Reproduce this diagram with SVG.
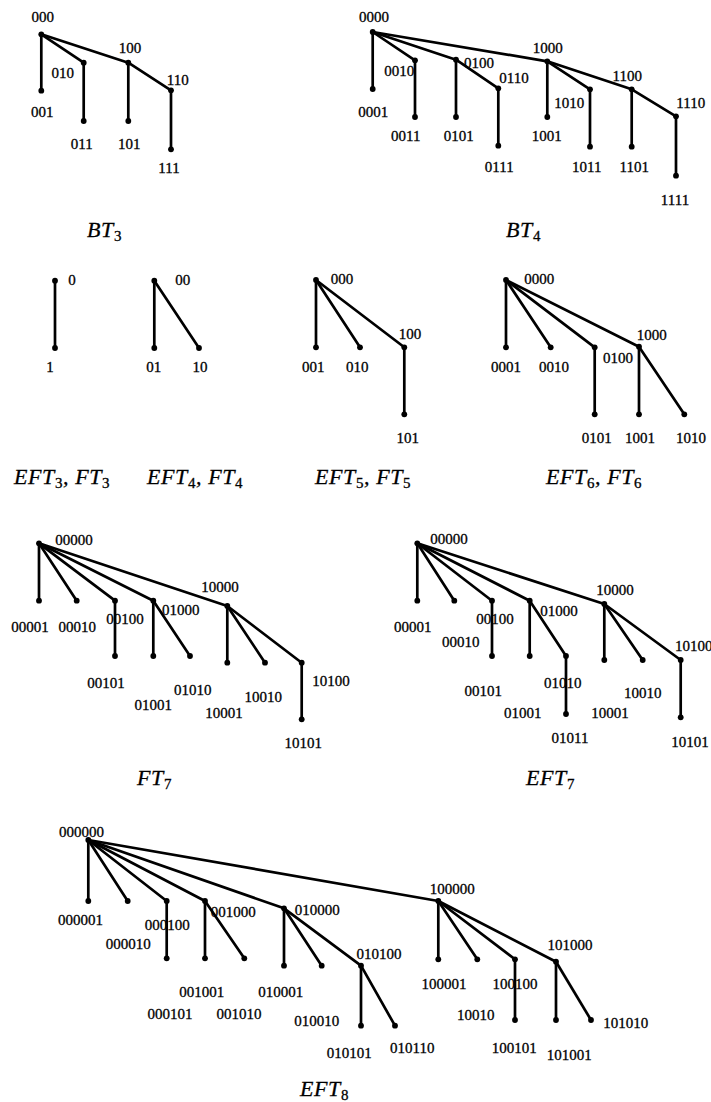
<svg xmlns="http://www.w3.org/2000/svg" width="711" height="1102" viewBox="0 0 711 1102">
<style>
  .bg { fill: #ffffff; }
  .edges line { stroke: #000; stroke-width: 2.7; stroke-linecap: round; }
  .node circle { fill: #000; }
  .node text { font-family: "Liberation Serif", "Times New Roman", serif; font-size: 15px; fill: #000; stroke: #000; stroke-width: 0.3px; text-anchor: middle; }
  .node text.st { text-anchor: start; }
  .cap { font-family: "Liberation Serif", "Times New Roman", serif; font-size: 22px; font-style: italic; fill: #000; stroke: #000; stroke-width: 0.3px; letter-spacing: 0.6px; }
  .cap .sub { font-size: 15px; font-style: normal; }
</style>
<rect class="bg" x="0" y="0" width="711" height="1102"/>

<!-- connectors -->
<g id="connectors" class="edges">
  <g id="e-bt3">
    <line x1="41.3" y1="34.3" x2="41.3" y2="90.7"/>
    <line x1="41.3" y1="34.3" x2="83.7" y2="62.7"/>
    <line x1="41.3" y1="34.3" x2="128.3" y2="62.7"/>
    <line x1="83.7" y1="62.7" x2="83.7" y2="121"/>
    <line x1="128.3" y1="62.7" x2="128.3" y2="121"/>
    <line x1="128.3" y1="62.7" x2="171" y2="90.3"/>
    <line x1="171" y1="90.3" x2="171" y2="149.3"/>
  </g>
  <g id="e-bt4">
    <line x1="372.7" y1="32" x2="372.7" y2="89"/>
    <line x1="372.7" y1="32" x2="415" y2="60.3"/>
    <line x1="372.7" y1="32" x2="456" y2="59.7"/>
    <line x1="372.7" y1="32" x2="547.3" y2="61.3"/>
    <line x1="415" y1="60.3" x2="415" y2="117"/>
    <line x1="456" y1="59.7" x2="456" y2="117"/>
    <line x1="456" y1="59.7" x2="498.3" y2="88.3"/>
    <line x1="498.3" y1="88.3" x2="498.3" y2="145.7"/>
    <line x1="547.3" y1="61.3" x2="547.3" y2="117"/>
    <line x1="547.3" y1="61.3" x2="590" y2="89.3"/>
    <line x1="547.3" y1="61.3" x2="631.7" y2="89.3"/>
    <line x1="590" y1="89.3" x2="590" y2="146.7"/>
    <line x1="631.7" y1="89.3" x2="631.7" y2="146.7"/>
    <line x1="631.7" y1="89.3" x2="676" y2="116.3"/>
    <line x1="676" y1="116.3" x2="676" y2="175.7"/>
  </g>
  <g id="e-eft3">
    <line x1="55" y1="280.7" x2="55" y2="348"/>
  </g>
  <g id="e-eft4">
    <line x1="154.3" y1="280.7" x2="154.3" y2="348"/>
    <line x1="154.3" y1="280.7" x2="199" y2="348"/>
  </g>
  <g id="e-eft5">
    <line x1="316" y1="280" x2="316" y2="347.3"/>
    <line x1="316" y1="280" x2="360" y2="347.3"/>
    <line x1="316" y1="280" x2="404.3" y2="347.3"/>
    <line x1="404.3" y1="347.3" x2="404.3" y2="414.3"/>
  </g>
  <g id="e-eft6">
    <line x1="506" y1="280" x2="506" y2="347.3"/>
    <line x1="506" y1="280" x2="550.7" y2="347.3"/>
    <line x1="506" y1="280" x2="594.7" y2="347.3"/>
    <line x1="506" y1="280" x2="639" y2="346.7"/>
    <line x1="594.7" y1="347.3" x2="594.7" y2="414.3"/>
    <line x1="639" y1="346.7" x2="639" y2="414.3"/>
    <line x1="639" y1="346.7" x2="684.3" y2="414.3"/>
  </g>
  <g id="e-ft7">
    <line x1="39" y1="543.3" x2="39" y2="600.7"/>
    <line x1="39" y1="543.3" x2="76.7" y2="600.7"/>
    <line x1="39" y1="543.3" x2="115" y2="600.7"/>
    <line x1="39" y1="543.3" x2="153.3" y2="600.7"/>
    <line x1="39" y1="543.3" x2="227.3" y2="606"/>
    <line x1="115" y1="600.7" x2="115" y2="656"/>
    <line x1="153.3" y1="600.7" x2="153.3" y2="656"/>
    <line x1="153.3" y1="600.7" x2="190" y2="656"/>
    <line x1="227.3" y1="606" x2="227.3" y2="662.7"/>
    <line x1="227.3" y1="606" x2="265" y2="662.7"/>
    <line x1="227.3" y1="606" x2="301.7" y2="662.7"/>
    <line x1="301.7" y1="662.7" x2="301.7" y2="719.3"/>
  </g>
  <g id="e-eft7">
    <line x1="417.3" y1="543.3" x2="417.3" y2="600.7"/>
    <line x1="417.3" y1="543.3" x2="454.3" y2="600.7"/>
    <line x1="417.3" y1="543.3" x2="492" y2="600.7"/>
    <line x1="417.3" y1="543.3" x2="529.7" y2="600.7"/>
    <line x1="417.3" y1="543.3" x2="604.3" y2="604"/>
    <line x1="492" y1="600.7" x2="492" y2="656"/>
    <line x1="529.7" y1="600.7" x2="529.7" y2="656"/>
    <line x1="529.7" y1="600.7" x2="566" y2="656"/>
    <line x1="566" y1="656" x2="566" y2="714"/>
    <line x1="604.3" y1="604" x2="604.3" y2="660"/>
    <line x1="604.3" y1="604" x2="642.7" y2="660"/>
    <line x1="604.3" y1="604" x2="680.7" y2="660"/>
    <line x1="680.7" y1="660" x2="680.7" y2="717.3"/>
  </g>
  <g id="e-eft8">
    <line x1="88.3" y1="840" x2="88.3" y2="901"/>
    <line x1="88.3" y1="840" x2="127.7" y2="901"/>
    <line x1="88.3" y1="840" x2="166.7" y2="901"/>
    <line x1="88.3" y1="840" x2="205" y2="901"/>
    <line x1="88.3" y1="840" x2="284" y2="908.3"/>
    <line x1="88.3" y1="840" x2="438.3" y2="901"/>
    <line x1="166.7" y1="901" x2="166.7" y2="958.3"/>
    <line x1="205" y1="901" x2="205" y2="958.3"/>
    <line x1="205" y1="901" x2="244.3" y2="958.3"/>
    <line x1="284" y1="908.3" x2="284" y2="965.7"/>
    <line x1="284" y1="908.3" x2="321.7" y2="965.7"/>
    <line x1="284" y1="908.3" x2="361" y2="965.7"/>
    <line x1="361" y1="965.7" x2="361" y2="1025.7"/>
    <line x1="361" y1="965.7" x2="395" y2="1025.7"/>
    <line x1="438.3" y1="901" x2="438.3" y2="959.3"/>
    <line x1="438.3" y1="901" x2="477.3" y2="959.3"/>
    <line x1="438.3" y1="901" x2="515" y2="959.3"/>
    <line x1="438.3" y1="901" x2="556" y2="961.7"/>
    <line x1="515" y1="959.3" x2="515" y2="1020"/>
    <line x1="556" y1="961.7" x2="556" y2="1020"/>
    <line x1="556" y1="961.7" x2="591" y2="1020"/>
  </g>
</g>

<!-- BT3 -->
<g id="bt3">
  <g id="bt3-000" class="node"><circle cx="41.3" cy="34.3" r="2.9"/><text x="42.7" y="22">000</text></g>
  <g id="bt3-001" class="node"><circle cx="41.3" cy="90.7" r="2.9"/><text x="42.3" y="117.3">001</text></g>
  <g id="bt3-010" class="node"><circle cx="83.7" cy="62.7" r="2.9"/><text x="62.7" y="77.7">010</text></g>
  <g id="bt3-011" class="node"><circle cx="83.7" cy="121" r="2.9"/><text x="81.7" y="149">011</text></g>
  <g id="bt3-100" class="node"><circle cx="128.3" cy="62.7" r="2.9"/><text x="130" y="53.3">100</text></g>
  <g id="bt3-101" class="node"><circle cx="128.3" cy="121" r="2.9"/><text x="129.3" y="149">101</text></g>
  <g id="bt3-110" class="node"><circle cx="171" cy="90.3" r="2.9"/><text x="177.7" y="85">110</text></g>
  <g id="bt3-111" class="node"><circle cx="171" cy="149.3" r="2.9"/><text x="169" y="172.7">111</text></g>
</g>

<!-- BT4 -->
<g id="bt4">
  <g id="bt4-0000" class="node"><circle cx="372.7" cy="32" r="2.9"/><text x="374" y="21.7">0000</text></g>
  <g id="bt4-0001" class="node"><circle cx="372.7" cy="89" r="2.9"/><text x="373.3" y="116.7">0001</text></g>
  <g id="bt4-0010" class="node"><circle cx="415" cy="60.3" r="2.9"/><text x="399.3" y="76">0010</text></g>
  <g id="bt4-0011" class="node"><circle cx="415" cy="117" r="2.9"/><text x="405.7" y="140.7">0011</text></g>
  <g id="bt4-0100" class="node"><circle cx="456" cy="59.7" r="2.9"/><text x="479" y="68.3">0100</text></g>
  <g id="bt4-0101" class="node"><circle cx="456" cy="117" r="2.9"/><text x="458.7" y="140.7">0101</text></g>
  <g id="bt4-0110" class="node"><circle cx="498.3" cy="88.3" r="2.9"/><text x="514" y="83.3">0110</text></g>
  <g id="bt4-0111" class="node"><circle cx="498.3" cy="145.7" r="2.9"/><text x="499.3" y="172.3">0111</text></g>
  <g id="bt4-1000" class="node"><circle cx="547.3" cy="61.3" r="2.9"/><text x="547.7" y="53.3">1000</text></g>
  <g id="bt4-1001" class="node"><circle cx="547.3" cy="117" r="2.9"/><text x="546.7" y="140.7">1001</text></g>
  <g id="bt4-1010" class="node"><circle cx="590" cy="89.3" r="2.9"/><text x="569.3" y="108.3">1010</text></g>
  <g id="bt4-1011" class="node"><circle cx="590" cy="146.7" r="2.9"/><text x="586.7" y="172.3">1011</text></g>
  <g id="bt4-1100" class="node"><circle cx="631.7" cy="89.3" r="2.9"/><text x="627.3" y="81.3">1100</text></g>
  <g id="bt4-1101" class="node"><circle cx="631.7" cy="146.7" r="2.9"/><text x="634.3" y="172.3">1101</text></g>
  <g id="bt4-1110" class="node"><circle cx="676" cy="116.3" r="2.9"/><text x="690.7" y="108.3">1110</text></g>
  <g id="bt4-1111" class="node"><circle cx="676" cy="175.7" r="2.9"/><text x="675" y="205">1111</text></g>
</g>

<!-- EFT3 -->
<g id="eft3">
  <g id="eft3-0" class="node"><circle cx="55" cy="280.7" r="2.9"/><text x="72" y="285">0</text></g>
  <g id="eft3-1" class="node"><circle cx="55" cy="348" r="2.9"/><text x="50" y="372.3">1</text></g>
</g>

<!-- EFT4 -->
<g id="eft4">
  <g id="eft4-00" class="node"><circle cx="154.3" cy="280.7" r="2.9"/><text x="182.7" y="285">00</text></g>
  <g id="eft4-01" class="node"><circle cx="154.3" cy="348" r="2.9"/><text x="153.7" y="372.3">01</text></g>
  <g id="eft4-10" class="node"><circle cx="199" cy="348" r="2.9"/><text x="200" y="372.3">10</text></g>
</g>

<!-- EFT5 -->
<g id="eft5">
  <g id="eft5-000" class="node"><circle cx="316" cy="280" r="2.9"/><text x="342" y="284.3">000</text></g>
  <g id="eft5-001" class="node"><circle cx="316" cy="347.3" r="2.9"/><text x="313.3" y="371.7">001</text></g>
  <g id="eft5-010" class="node"><circle cx="360" cy="347.3" r="2.9"/><text x="357.3" y="371.7">010</text></g>
  <g id="eft5-100" class="node"><circle cx="404.3" cy="347.3" r="2.9"/><text x="410" y="339">100</text></g>
  <g id="eft5-101" class="node"><circle cx="404.3" cy="414.3" r="2.9"/><text x="407.7" y="443.3">101</text></g>
</g>

<!-- EFT6 -->
<g id="eft6">
  <g id="eft6-0000" class="node"><circle cx="506" cy="280" r="2.9"/><text x="539.3" y="284.3">0000</text></g>
  <g id="eft6-0001" class="node"><circle cx="506" cy="347.3" r="2.9"/><text x="506" y="371.7">0001</text></g>
  <g id="eft6-0010" class="node"><circle cx="550.7" cy="347.3" r="2.9"/><text x="554" y="371.7">0010</text></g>
  <g id="eft6-0100" class="node"><circle cx="594.7" cy="347.3" r="2.9"/><text x="618" y="362.7">0100</text></g>
  <g id="eft6-0101" class="node"><circle cx="594.7" cy="414.3" r="2.9"/><text x="596.7" y="443.3">0101</text></g>
  <g id="eft6-1000" class="node"><circle cx="639" cy="346.7" r="2.9"/><text x="651.7" y="340">1000</text></g>
  <g id="eft6-1001" class="node"><circle cx="639" cy="414.3" r="2.9"/><text x="640" y="443.3">1001</text></g>
  <g id="eft6-1010" class="node"><circle cx="684.3" cy="414.3" r="2.9"/><text x="691" y="443.3">1010</text></g>
</g>

<!-- FT7 -->
<g id="ft7">
  <g id="ft7-00000" class="node"><circle cx="39" cy="543.3" r="2.9"/><text x="74" y="545">00000</text></g>
  <g id="ft7-00001" class="node"><circle cx="39" cy="600.7" r="2.9"/><text x="30" y="632.3">00001</text></g>
  <g id="ft7-00010" class="node"><circle cx="76.7" cy="600.7" r="2.9"/><text x="77.3" y="632.3">00010</text></g>
  <g id="ft7-00100" class="node"><circle cx="115" cy="600.7" r="2.9"/><text x="125" y="623.7">00100</text></g>
  <g id="ft7-00101" class="node"><circle cx="115" cy="656" r="2.9"/><text x="106" y="687.7">00101</text></g>
  <g id="ft7-01000" class="node"><circle cx="153.3" cy="600.7" r="2.9"/><text x="180.7" y="615">01000</text></g>
  <g id="ft7-01001" class="node"><circle cx="153.3" cy="656" r="2.9"/><text x="153.3" y="710.3">01001</text></g>
  <g id="ft7-01010" class="node"><circle cx="190" cy="656" r="2.9"/><text x="192.7" y="695">01010</text></g>
  <g id="ft7-10000" class="node"><circle cx="227.3" cy="606" r="2.9"/><text x="220" y="591.7">10000</text></g>
  <g id="ft7-10001" class="node"><circle cx="227.3" cy="662.7" r="2.9"/><text x="224" y="717.7">10001</text></g>
  <g id="ft7-10010" class="node"><circle cx="265" cy="662.7" r="2.9"/><text x="263.3" y="701.7">10010</text></g>
  <g id="ft7-10100" class="node"><circle cx="301.7" cy="662.7" r="2.9"/><text x="331" y="686">10100</text></g>
  <g id="ft7-10101" class="node"><circle cx="301.7" cy="719.3" r="2.9"/><text x="303.3" y="748.3">10101</text></g>
</g>

<!-- EFT7 -->
<g id="eft7">
  <g id="eft7-00000" class="node"><circle cx="417.3" cy="543.3" r="2.9"/><text x="449" y="544.3">00000</text></g>
  <g id="eft7-00001" class="node"><circle cx="417.3" cy="600.7" r="2.9"/><text x="412.7" y="631.7">00001</text></g>
  <g id="eft7-00010" class="node"><circle cx="454.3" cy="600.7" r="2.9"/><text x="460.7" y="647.3">00010</text></g>
  <g id="eft7-00100" class="node"><circle cx="492" cy="600.7" r="2.9"/><text x="495" y="623.7">00100</text></g>
  <g id="eft7-00101" class="node"><circle cx="492" cy="656" r="2.9"/><text x="483.3" y="695.7">00101</text></g>
  <g id="eft7-01000" class="node"><circle cx="529.7" cy="600.7" r="2.9"/><text x="559" y="615.7">01000</text></g>
  <g id="eft7-01001" class="node"><circle cx="529.7" cy="656" r="2.9"/><text x="522.7" y="718.3">01001</text></g>
  <g id="eft7-01010" class="node"><circle cx="566" cy="656" r="2.9"/><text x="562.7" y="687.7">01010</text></g>
  <g id="eft7-01011" class="node"><circle cx="566" cy="714" r="2.9"/><text x="570" y="743.3">01011</text></g>
  <g id="eft7-10000" class="node"><circle cx="604.3" cy="604" r="2.9"/><text x="615" y="595">10000</text></g>
  <g id="eft7-10001" class="node"><circle cx="604.3" cy="660" r="2.9"/><text x="610" y="718.3">10001</text></g>
  <g id="eft7-10010" class="node"><circle cx="642.7" cy="660" r="2.9"/><text x="642.7" y="698.3">10010</text></g>
  <g id="eft7-10100" class="node"><circle cx="680.7" cy="660" r="2.9"/><text class="st" x="675" y="651">10100</text></g>
  <g id="eft7-10101" class="node"><circle cx="680.7" cy="717.3" r="2.9"/><text x="690" y="746.7">10101</text></g>
</g>

<!-- EFT8 -->
<g id="eft8">
  <g id="eft8-000000" class="node"><circle cx="88.3" cy="840" r="2.9"/><text x="81.5" y="836.5">000000</text></g>
  <g id="eft8-000001" class="node"><circle cx="88.3" cy="901" r="2.9"/><text x="80.5" y="925">000001</text></g>
  <g id="eft8-000010" class="node"><circle cx="127.7" cy="901" r="2.9"/><text x="128.3" y="949">000010</text></g>
  <g id="eft8-000100" class="node"><circle cx="166.7" cy="901" r="2.9"/><text x="167.3" y="930">000100</text></g>
  <g id="eft8-000101" class="node"><circle cx="166.7" cy="958.3" r="2.9"/><text x="170" y="1019">000101</text></g>
  <g id="eft8-001000" class="node"><circle cx="205" cy="901" r="2.9"/><text x="233.3" y="916.7">001000</text></g>
  <g id="eft8-001001" class="node"><circle cx="205" cy="958.3" r="2.9"/><text x="201.7" y="996.7">001001</text></g>
  <g id="eft8-001010" class="node"><circle cx="244.3" cy="958.3" r="2.9"/><text x="239" y="1019">001010</text></g>
  <g id="eft8-010000" class="node"><circle cx="284" cy="908.3" r="2.9"/><text x="317.3" y="915">010000</text></g>
  <g id="eft8-010001" class="node"><circle cx="284" cy="965.7" r="2.9"/><text x="280.7" y="996.7">010001</text></g>
  <g id="eft8-010010" class="node"><circle cx="321.7" cy="965.7" r="2.9"/><text x="316.7" y="1026">010010</text></g>
  <g id="eft8-010100" class="node"><circle cx="361" cy="965.7" r="2.9"/><text x="379" y="959">010100</text></g>
  <g id="eft8-010101" class="node"><circle cx="361" cy="1025.7" r="2.9"/><text x="349.3" y="1058.3">010101</text></g>
  <g id="eft8-010110" class="node"><circle cx="395" cy="1025.7" r="2.9"/><text x="412.3" y="1052.7">010110</text></g>
  <g id="eft8-100000" class="node"><circle cx="438.3" cy="901" r="2.9"/><text x="452.3" y="894">100000</text></g>
  <g id="eft8-100001" class="node"><circle cx="438.3" cy="959.3" r="2.9"/><text x="444" y="989">100001</text></g>
  <g id="eft8-100010" class="node"><circle cx="477.3" cy="959.3" r="2.9"/><text x="475.7" y="1020">10010</text></g>
  <g id="eft8-100100" class="node"><circle cx="515" cy="959.3" r="2.9"/><text x="515" y="989">100100</text></g>
  <g id="eft8-100101" class="node"><circle cx="515" cy="1020" r="2.9"/><text x="514.3" y="1052.7">100101</text></g>
  <g id="eft8-101000" class="node"><circle cx="556" cy="961.7" r="2.9"/><text x="570" y="950.3">101000</text></g>
  <g id="eft8-101001" class="node"><circle cx="556" cy="1020" r="2.9"/><text x="569.3" y="1060">101001</text></g>
  <g id="eft8-101010" class="node"><circle cx="591" cy="1020" r="2.9"/><text x="625.7" y="1028.3">101010</text></g>
</g>

<!-- captions -->
<g id="captions">
  <text class="cap" x="87" y="237">BT<tspan class="sub" dy="4">3</tspan></text>
  <text class="cap" x="506" y="237">BT<tspan class="sub" dy="4">4</tspan></text>
  <text class="cap" x="14" y="484">EFT<tspan class="sub" dy="4">3</tspan><tspan dy="-4">, FT</tspan><tspan class="sub" dy="4">3</tspan></text>
  <text class="cap" x="147" y="484">EFT<tspan class="sub" dy="4">4</tspan><tspan dy="-4">, FT</tspan><tspan class="sub" dy="4">4</tspan></text>
  <text class="cap" x="315" y="484">EFT<tspan class="sub" dy="4">5</tspan><tspan dy="-4">, FT</tspan><tspan class="sub" dy="4">5</tspan></text>
  <text class="cap" x="546" y="484">EFT<tspan class="sub" dy="4">6</tspan><tspan dy="-4">, FT</tspan><tspan class="sub" dy="4">6</tspan></text>
  <text class="cap" x="137" y="785">FT<tspan class="sub" dy="4">7</tspan></text>
  <text class="cap" x="526" y="785">EFT<tspan class="sub" dy="4">7</tspan></text>
  <text class="cap" x="300" y="1096">EFT<tspan class="sub" dy="4">8</tspan></text>
</g>
</svg>
